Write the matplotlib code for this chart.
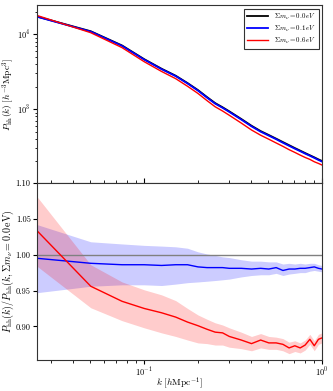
import matplotlib
matplotlib.use("Agg")
import matplotlib.pyplot as plt
import numpy as np

plt.rcParams['font.family'] = ['cmr10', 'DejaVu Serif']
plt.rcParams['mathtext.fontset'] = 'cm'
plt.rcParams['axes.formatter.use_mathtext'] = True
plt.rcParams['axes.unicode_minus'] = False

k = [0.0251, 0.0503, 0.0754, 0.1005, 0.1257, 0.1508, 0.1759, 0.2011, 0.2262, 0.2513,
     0.2765, 0.3016, 0.3519, 0.4021, 0.4524, 0.5027, 0.5529, 0.6032, 0.6535, 0.7037,
     0.7540, 0.8042, 0.8545, 0.9048, 0.9550, 1.0]

P_00 = [17300, 11000, 7100, 4650, 3470, 2800, 2230, 1800, 1450, 1205,
        1060, 935, 740, 600, 509, 451, 403, 363, 330, 302,
        279, 259, 242, 227, 213, 203]
P_01 = [17210, 10870, 7000, 4585, 3418, 2761, 2199, 1769, 1424, 1183,
        1041, 917, 726, 588, 499, 442, 396, 355, 323, 296,
        274, 254, 238, 223, 209, 199]
P_06 = [17880, 10516, 6639, 4301, 3189, 2556, 2020, 1622, 1299, 1075,
        944, 828, 652, 526, 448, 396, 353, 318, 287, 264,
        243, 226, 213, 198, 188, 179]

ratio_01 = [0.995, 0.988, 0.986, 0.986, 0.985, 0.986, 0.986, 0.983, 0.982, 0.982,
            0.982, 0.981, 0.981, 0.980, 0.981, 0.980, 0.982, 0.978, 0.980, 0.980,
            0.981, 0.981, 0.982, 0.983, 0.981, 0.980]
ratio_01_hi = [1.042, 1.018, 1.015, 1.013, 1.012, 1.011, 1.009, 1.004, 1.001, 0.999,
               0.997, 0.996, 0.993, 0.991, 0.991, 0.990, 0.990, 0.987, 0.988, 0.987,
               0.988, 0.987, 0.988, 0.988, 0.986, 0.985]
ratio_01_lo = [0.947, 0.956, 0.958, 0.958, 0.957, 0.959, 0.961, 0.962, 0.963, 0.964,
               0.965, 0.966, 0.969, 0.971, 0.972, 0.972, 0.974, 0.971, 0.973, 0.974,
               0.975, 0.975, 0.977, 0.978, 0.977, 0.976]

ratio_06 = [1.0335, 0.956, 0.935, 0.925, 0.919, 0.913, 0.906, 0.901, 0.896, 0.892,
            0.891, 0.886, 0.881, 0.876, 0.881, 0.877, 0.877, 0.875, 0.870, 0.873,
            0.870, 0.874, 0.882, 0.873, 0.882, 0.884]
ratio_06_hi = [1.081, 0.986, 0.962, 0.951, 0.944, 0.936, 0.925, 0.916, 0.910, 0.905,
               0.902, 0.898, 0.892, 0.886, 0.890, 0.886, 0.885, 0.883, 0.878, 0.880,
               0.877, 0.881, 0.889, 0.880, 0.889, 0.891]
ratio_06_lo = [0.984, 0.926, 0.908, 0.898, 0.891, 0.886, 0.881, 0.877, 0.876, 0.874,
               0.874, 0.871, 0.869, 0.866, 0.870, 0.868, 0.868, 0.866, 0.862, 0.865,
               0.863, 0.867, 0.875, 0.866, 0.875, 0.877]

labels = [r'$\Sigma m_\nu = 0.0\, eV$', r'$\Sigma m_\nu = 0.1\, eV$', r'$\Sigma m_\nu = 0.6\, eV$']

fig = plt.figure(figsize=(3.33, 3.91), dpi=100)
ax1 = fig.add_axes([0.111, 0.532, 0.856, 0.455])
ax2 = fig.add_axes([0.111, 0.079, 0.856, 0.453], sharex=ax1)

ax1.plot(k, P_00, color='black', lw=1.3, label=labels[0])
ax1.plot(k, P_01, color='blue', lw=1.3, label=labels[1])
ax1.plot(k, P_06, color='red', lw=1.0, label=labels[2])
ax1.set_xscale('log')
ax1.set_yscale('log')
ax1.set_ylim(103, 24600)
ax1.set_xlim(0.0251, 1.0)
ax1.set_ylabel(r'$P_{\rm hh}(k)\ [h^{-3}{\rm Mpc}^3]$', fontsize=6.8)
ax1.yaxis.set_label_coords(-0.072, 0.5)
ax1.tick_params(axis='x', which='both', direction='in', labelbottom=False)
ax1.tick_params(axis='y', labelsize=6, pad=1.5, length=3)
ax1.tick_params(axis='y', which='minor', length=1.8)
leg = ax1.legend(loc='upper right', fontsize=5, fancybox=False, edgecolor='black',
                 handlelength=3.0, borderpad=0.4, labelspacing=0.3)
leg.get_frame().set_linewidth(0.8)

ax2.fill_between(k, ratio_01_lo, ratio_01_hi, color='blue', alpha=0.2, lw=0)
ax2.fill_between(k, ratio_06_lo, ratio_06_hi, color='red', alpha=0.2, lw=0)
ax2.axhline(1.0, color='gray', lw=1.0)
ax2.plot(k, ratio_01, color='blue', lw=1.0)
ax2.plot(k, ratio_06, color='red', lw=1.0)
ax2.set_ylim(0.853, 1.10)
ax2.set_yticks([0.90, 0.95, 1.00, 1.05, 1.10])
ax2.set_yticklabels(['0.90', '0.95', '1.00', '1.05', '1.10'])
ax2.set_xlim(0.0251, 1.0)
ax2.set_xlabel(r'$k\ [h{\rm Mpc}^{-1}]$', fontsize=6.8)
ax2.xaxis.set_label_coords(0.5, -0.085)
ax2.set_ylabel(r'$P_{\rm hh}(k)/P_{\rm hh}(k,\Sigma m_\nu=0.0\,{\rm eV})$', fontsize=7.2)
ax2.yaxis.set_label_coords(-0.074, 0.5)
ax2.tick_params(labelsize=6, pad=1.5, length=3)
ax2.tick_params(which='minor', length=1.8)

for ax in (ax1, ax2):
    for s in ax.spines.values():
        s.set_color('#333333')

fig.savefig('out.png', dpi=100)
